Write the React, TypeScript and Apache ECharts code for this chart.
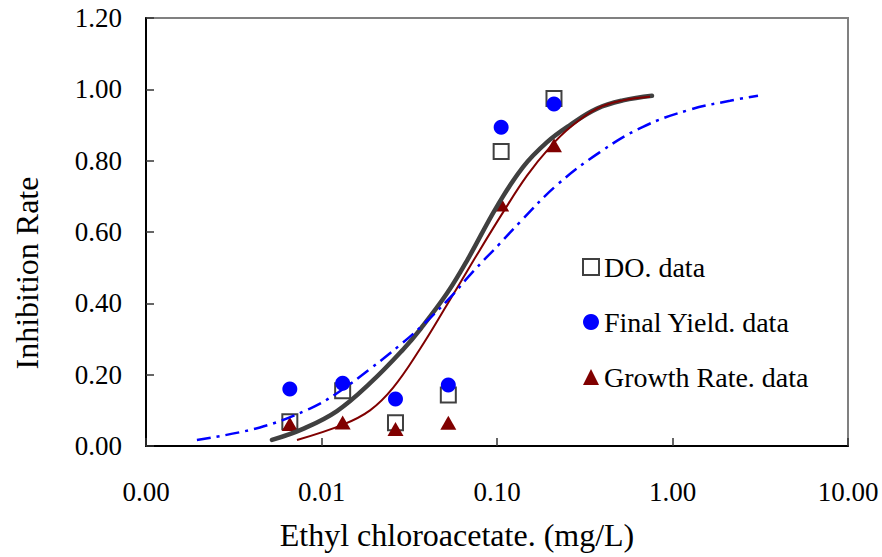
import React, { useEffect, useRef } from "react";
import * as echarts from "echarts";

// Concentrations (mg/L) of the test points
const doseX = [0.0066, 0.0132, 0.0264, 0.0528, 0.1056, 0.2112];
// Observed inhibition rates
const doData = [0.068, 0.155, 0.065, 0.143, 0.826, 0.974];
const yieldData = [0.16, 0.176, 0.132, 0.171, 0.894, 0.959];
const growthData = [0.062, 0.066, 0.048, 0.065, 0.677, 0.843];

// Fitted curves
const doFitX = [0.00522, 0.00785, 0.01225, 0.0189, 0.0291, 0.0369, 0.0519, 0.0675, 0.1, 0.1406, 0.1928, 0.2606, 0.3715, 0.5224, 0.764];
const doFitY = [0.017, 0.048, 0.098, 0.176, 0.27, 0.33, 0.428, 0.52, 0.672, 0.782, 0.852, 0.9, 0.946, 0.969, 0.982];

const growthFitX = [0.00725, 0.01326, 0.0189, 0.02555, 0.0364, 0.0519, 0.0749, 0.1082, 0.1482, 0.2004, 0.2606, 0.3715, 0.5224, 0.745];
const growthFitY = [0.017, 0.06, 0.1, 0.163, 0.272, 0.396, 0.527, 0.655, 0.758, 0.838, 0.893, 0.946, 0.969, 0.979];

const yieldFitX = [0.00195, 0.00446, 0.0086, 0.01225, 0.0189, 0.028, 0.0379, 0.054, 0.073, 0.104, 0.1352, 0.2197, 0.386, 0.679, 1.258, 2.126, 3.07];
const yieldFitY = [0.017, 0.052, 0.105, 0.148, 0.216, 0.283, 0.34, 0.416, 0.489, 0.568, 0.628, 0.732, 0.824, 0.895, 0.943, 0.968, 0.982];

const legendNames = ["DO. data", "Final Yield. data", "Growth Rate. data"];

const FONT = "'Times New Roman', 'Liberation Serif', serif";

const zip = (xs: number[], ys: number[]) => xs.map((x, i) => [x, ys[i]]);

export default function App() {
  const ref = useRef<HTMLDivElement>(null);
  useEffect(() => {
    if (!ref.current) return;
    const chart = echarts.init(ref.current, null, { renderer: "svg" });
    chart.setOption({
      animation: false,
      backgroundColor: "#ffffff",
      grid: {
        left: 146,
        right: 34,
        top: 18,
        bottom: 111,
        show: true,
        borderColor: "#808080",
        borderWidth: 2,
        containLabel: false,
      },
      legend: {
        orient: "vertical",
        left: 577,
        top: 247,
        itemWidth: 16,
        itemHeight: 16,
        itemGap: 25,
        data: legendNames,
        selectedMode: false,
        textStyle: { fontFamily: FONT, fontSize: 28, color: "#000", lineHeight: 30 },
      },
      xAxis: {
        type: "log",
        logBase: 10,
        min: 0.001,
        max: 10,
        name: "Ethyl chloroacetate. (mg/L)",
        nameLocation: "middle",
        nameGap: 73,
        nameTextStyle: { fontFamily: FONT, fontSize: 32, color: "#000", padding: [0, 80, 0, 0] },
        axisLine: { lineStyle: { color: "#000", width: 2 } },
        axisTick: { inside: true, length: 8, lineStyle: { color: "#333", width: 1.5 } },
        minorTick: { show: false },
        splitLine: { show: false },
        axisLabel: {
          margin: 32,
          fontFamily: FONT,
          fontSize: 27,
          color: "#000",
          formatter: (v: number) => v.toFixed(2),
        },
      },
      yAxis: {
        type: "value",
        min: 0,
        max: 1.2,
        interval: 0.2,
        name: "Inhibition Rate",
        nameLocation: "middle",
        nameGap: 103,
        nameTextStyle: { fontFamily: FONT, fontSize: 32, color: "#000", padding: [0, 82, 0, 0] },
        axisLine: { show: true, lineStyle: { color: "#000", width: 2 } },
        axisTick: { show: true, inside: true, length: 8, lineStyle: { color: "#333", width: 1.5 } },
        splitLine: { show: false },
        axisLabel: {
          margin: 24,
          fontFamily: FONT,
          fontSize: 27,
          color: "#000",
          formatter: (v: number) => v.toFixed(2),
        },
      },
      series: [
        {
          name: "DO. fit",
          type: "line",
          data: zip(doFitX, doFitY),
          showSymbol: false,
          smooth: 0.4,
          silent: true,
          lineStyle: { color: "#404040", width: 4.5, cap: "round" },
        },
        {
          name: "Growth Rate. fit",
          type: "line",
          data: zip(growthFitX, growthFitY),
          showSymbol: false,
          smooth: 0.4,
          silent: true,
          lineStyle: { color: "#800000", width: 2 },
        },
        {
          name: "Final Yield. fit",
          type: "line",
          data: zip(yieldFitX, yieldFitY),
          showSymbol: false,
          smooth: 0.4,
          silent: true,
          lineStyle: { color: "#0000ff", width: 2.5, type: [14, 6, 3, 6] },
        },
        {
          name: "DO. data",
          type: "scatter",
          data: zip(doseX, doData),
          symbol: "rect",
          symbolSize: 15,
          silent: true,
          itemStyle: { color: "#ffffff", borderColor: "#404040", borderWidth: 2, opacity: 1 },
        },
        {
          name: "Final Yield. data",
          type: "scatter",
          data: zip(doseX, yieldData),
          symbol: "circle",
          symbolSize: 15,
          silent: true,
          itemStyle: { color: "#0000ff", opacity: 1 },
        },
        {
          name: "Growth Rate. data",
          type: "scatter",
          data: zip(doseX, growthData),
          symbol: "triangle",
          symbolSize: [16, 14],
          silent: true,
          itemStyle: { color: "#800000", opacity: 1 },
        },
      ],
    });
    return () => chart.dispose();
  }, []);
  return (
    <div
      ref={ref}
      style={{ position: "fixed", left: 0, top: 0, width: 882, height: 557, background: "#fff" }}
    />
  );
}
